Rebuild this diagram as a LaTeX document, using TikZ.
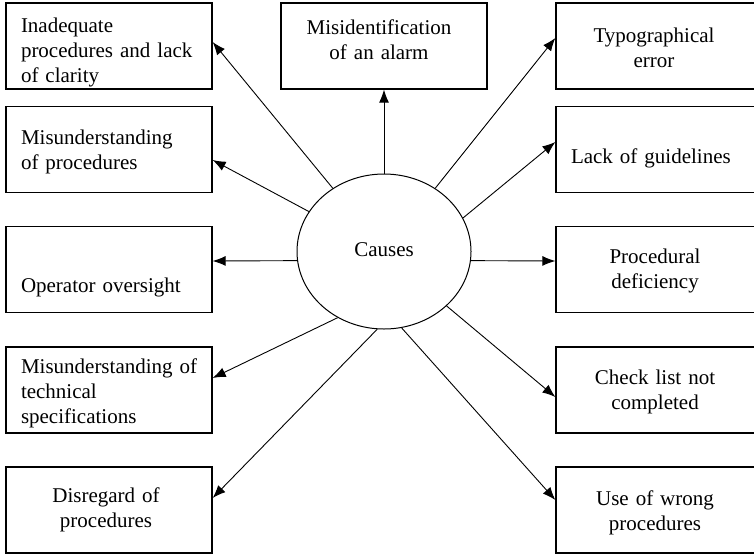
\documentclass[tikz,border=0pt]{standalone}
\usepackage{fontspec}
\setmainfont{Liberation Serif}
\usetikzlibrary{shapes.geometric,arrows.meta}
\begin{document}
\begin{tikzpicture}[x=1pt,y=-1pt,
  font=\fontsize{21}{25}\selectfont,
  box/.style={draw,line width=1.3pt,minimum width=206pt,minimum height=86pt,inner sep=0pt},
  rbox/.style={box,minimum width=200pt},
  txt/.style={text width=182pt,inner sep=0pt},
  hub/.style={draw,ellipse,line width=1pt,minimum width=174pt,minimum height=155pt,inner sep=0pt},
  link/.style={-{Latex[length=13pt,width=10pt]},line width=0.9pt}]
\clip (0,0) rectangle (754,555);
\useasboundingbox (0,0) rectangle (754,555);

% central ellipse
\node[hub] (c) at (384,251.5) {\raisebox{3pt}{Causes}};

% left column
\node[box,label={[txt,align=left,xshift=3pt,yshift=-6pt]center:{Inadequate\\procedures and lack\\of clarity}}] (l1) at (109,46) {};
\node[box,label={[txt,align=left,xshift=3pt,yshift=-2pt]center:{Misunderstanding\\of procedures}}] (l2) at (109,149.5) {};
\node[box,label={[txt,align=left,xshift=3pt,yshift=-17.5pt]center:{Operator oversight}}] (l3) at (109,269.5) {};
\node[box,label={[txt,align=left,xshift=3pt,yshift=-3pt]center:{Misunderstanding of\\technical\\specifications}}] (l4) at (109,390) {};
\node[box,label={[txt,align=center,xshift=-3pt]center:{Disregard of\\procedures}}] (l5) at (109,510) {};

% top middle
\node[box,label={[txt,align=center,xshift=-5pt,yshift=6.5pt]center:{Misidentification\\of an alarm}}] (m) at (384,46) {};

% right column
\node[rbox,label={[txt,align=center,xshift=-2pt,yshift=-1.5pt]center:{Typographical\\error}}] (r1) at (656,46) {};
\node[rbox,label={[txt,align=left,xshift=6pt,yshift=-8.5pt]center:{Lack of guidelines}}] (r2) at (656,149.5) {};
\node[rbox,label={[txt,align=center,xshift=-1pt,yshift=-1.5pt]center:{Procedural\\deficiency}}] (r3) at (656,269.5) {};
\node[rbox,label={[txt,align=center,xshift=-1pt,yshift=-1.5pt]center:{Check list not\\completed}}] (r4) at (656,390) {};
\node[rbox,label={[txt,align=center,xshift=-1pt,yshift=-3pt]center:{Use of wrong\\procedures}}] (r5) at (656,510) {};

% connectors
\draw[link] (c.129) -- ([yshift=4pt]l1.east);
\draw[link] (c.152.5) -- ([yshift=-10.5pt]l2.east);
\draw[link] (c.186.3) -- ([yshift=8.5pt]l3.east);
\draw[link] (c.235) -- ([yshift=12pt]l4.east);
\draw[link] (c.265.6) -- ([yshift=12pt]l5.east);
\draw[link] (c.north) -- (m.south);
\draw[link] (c.51) -- ([yshift=8pt]r1.west);
\draw[link] (c.23) -- ([yshift=7.5pt]r2.west);
\draw[link] (c.-6.3) -- ([yshift=8.5pt]r3.west);
\draw[link] (c.-41) -- ([yshift=-7pt]r4.west);
\draw[link] (c.-77.8) -- ([yshift=10pt]r5.west);
\end{tikzpicture}
\end{document}
